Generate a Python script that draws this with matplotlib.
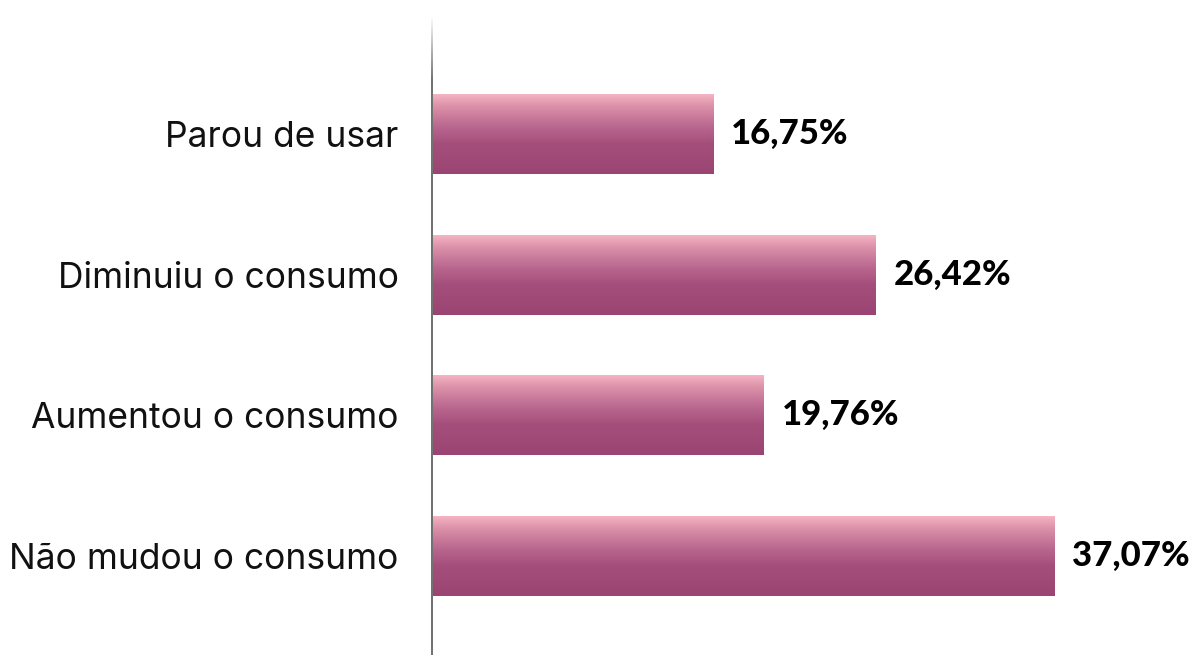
import matplotlib
matplotlib.use("Agg")
import matplotlib.pyplot as plt
import numpy as np
from matplotlib.colors import LinearSegmentedColormap

categories = ["Não mudou o consumo", "Aumentou o consumo", "Diminuiu o consumo", "Parou de usar"]
values = [37.07, 19.76, 26.42, 16.75]
value_labels = ["37,07%", "19,76%", "26,42%", "16,75%"]

W, H, DPI = 1201, 655, 100
fig = plt.figure(figsize=(W / DPI, H / DPI), dpi=DPI)
ax_left, ax_right = 432, 1201
ax_top, ax_bot = 15, 655
ax = fig.add_axes([ax_left / W, (H - ax_bot) / H, (ax_right - ax_left) / W, (ax_bot - ax_top) / H])

px_per_unit = 16.78
ax.set_xlim(0, (ax_right - ax_left) / px_per_unit)
spacing = 140.67
ax.set_ylim(-(ax_bot - 556) / spacing, 3 + (134 - ax_top) / spacing)

ypos = np.arange(len(categories))
bar_h = 80 / spacing

cmap = LinearSegmentedColormap.from_list(
    "grad",
    [(0.0, "#F4B5C3"), (0.15, "#DC91A9"), (0.4, "#BA6890"), (0.62, "#A44F7B"), (1.0, "#9A4473")],
)
grad = np.linspace(0, 1, 256).reshape(-1, 1)

bars = ax.barh(ypos, values, height=bar_h, color="none", edgecolor="none")
for b in bars:
    x0, y0, w, h = b.get_x(), b.get_y(), b.get_width(), b.get_height()
    im = ax.imshow(grad, cmap=cmap, aspect="auto", extent=(x0, x0 + w, y0, y0 + h),
                   origin="upper", interpolation="bilinear", zorder=2)
    im.set_clip_path(b)

ax.set_yticks(ypos)
ax.set_yticklabels(categories, fontsize=25.5, family=["Inter", "DejaVu Sans"], color="#111111")
ax.tick_params(axis="y", length=0, pad=24)
ax.set_xticks([])
for s in ax.spines.values():
    s.set_visible(False)

# vertical axis line with fading top (gradient strip drawn as image in axes coords)
line_cmap = LinearSegmentedColormap.from_list(
    "line", [(0.0, (0.45, 0.45, 0.45, 0.0)), (0.1, (0.45, 0.45, 0.45, 1.0)), (1.0, (0.45, 0.45, 0.45, 1.0))])
lw_frac = 2.0 / (ax_right - ax_left)
ax.imshow(grad, cmap=line_cmap, aspect="auto", extent=(-lw_frac / 2, lw_frac / 2, 0, 1),
          origin="upper", transform=ax.transAxes, zorder=3, clip_on=False, interpolation="bilinear")
ax.set_xlim(0, (ax_right - ax_left) / px_per_unit)
ax.set_ylim(-(ax_bot - 556) / spacing, 3 + (134 - ax_top) / spacing)

for y, v, lab in zip(ypos, values, value_labels):
    ax.annotate(lab, xy=(v, y), xytext=(13, 0), textcoords="offset points",
                ha="left", va="center", fontsize=25, fontweight="black",
                family=["Lato", "DejaVu Sans"], color="#000000")

fig.savefig("out.png", dpi=DPI)
